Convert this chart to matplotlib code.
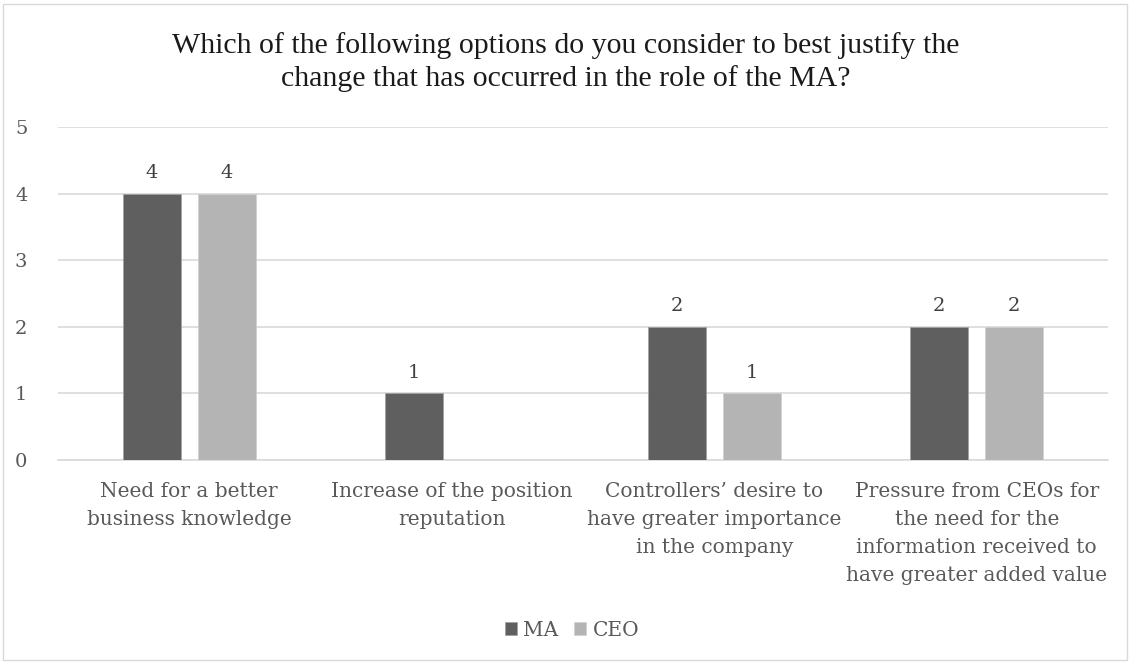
import matplotlib
matplotlib.use("Agg")
import matplotlib.pyplot as plt
import numpy as np
from matplotlib.patches import Rectangle

categories = [
    "Need for a better\nbusiness knowledge",
    "Increase of the position\nreputation",
    "Controllers\u2019 desire to\nhave greater importance\nin the company",
    "Pressure from CEOs for\nthe need for the\ninformation received to\nhave greater added value",
]
ma_values = [4, 1, 2, 2]
ceo_values = [4, 0, 1, 2]
series_names = ["MA", "CEO"]
title = "Which of the following options do you consider to best justify the\nchange that has occurred in the role of the MA?"

plt.rcParams['font.family'] = ['DejaVu Serif']

fig = plt.figure(figsize=(11.31, 6.64), dpi=100)
fig.patches.append(Rectangle((3/1131, 4/664), 1124/1131, 656/664, transform=fig.transFigure,
                             fill=False, edgecolor='#d9d9d9', linewidth=1.0))
ax = fig.add_axes([58/1131, 1 - 460/664, 1050/1131, 333/664])

x = np.arange(len(categories))
w = 0.221
off = 0.143
c_ma = '#5f5f5f'
c_ceo = '#b4b4b4'
b1 = ax.bar(x - off, ma_values, w, color=c_ma, edgecolor='#a0a0a0', linewidth=0.5, label=series_names[0], zorder=3)
b2 = ax.bar(x + off, ceo_values, w, color=c_ceo, edgecolor='#d0d0d0', linewidth=0.5, label=series_names[1], zorder=3)

for rects, vals in ((b1, ma_values), (b2, ceo_values)):
    for r, v in zip(rects, vals):
        if v > 0:
            ax.text(r.get_x() + r.get_width() / 2, v + 0.17, str(v), ha='center', va='bottom',
                    fontsize=14, color='#404040')

ax.set_xlim(-0.5, len(categories) - 0.5)
ax.set_ylim(0, 5)
ax.set_yticks(range(0, 6))
ax.yaxis.grid(True, color='#d9d9d9', linewidth=1.2, zorder=0)
ax.set_axisbelow(True)
for s in ['top', 'right', 'left']:
    ax.spines[s].set_visible(False)
ax.spines['bottom'].set_color('#d9d9d9')
ax.spines['bottom'].set_linewidth(1.2)
ax.tick_params(axis='both', length=0, labelsize=14, labelcolor='#595959')
ax.tick_params(axis='y', pad=22)
ax.set_xticks(x)
ax.set_xticklabels(categories, fontsize=14.5, color='#595959', va='top', linespacing=1.6)
ax.tick_params(axis='x', pad=16)

fig.text(0.5, 1 - 62/664, title, ha='center', va='center', fontsize=21.5, color='#1a1a1a',
         linespacing=1.25, family='Liberation Serif')

leg = fig.legend(handles=[b1, b2], labels=series_names, loc='center', bbox_to_anchor=(572/1131, 1 - 630/664),
                 ncol=2, frameon=False, fontsize=14.5, labelcolor='#595959', handlelength=0.6, handleheight=0.6,
                 handletextpad=0.3, columnspacing=0.8)

fig.savefig('out.png', dpi=100)
